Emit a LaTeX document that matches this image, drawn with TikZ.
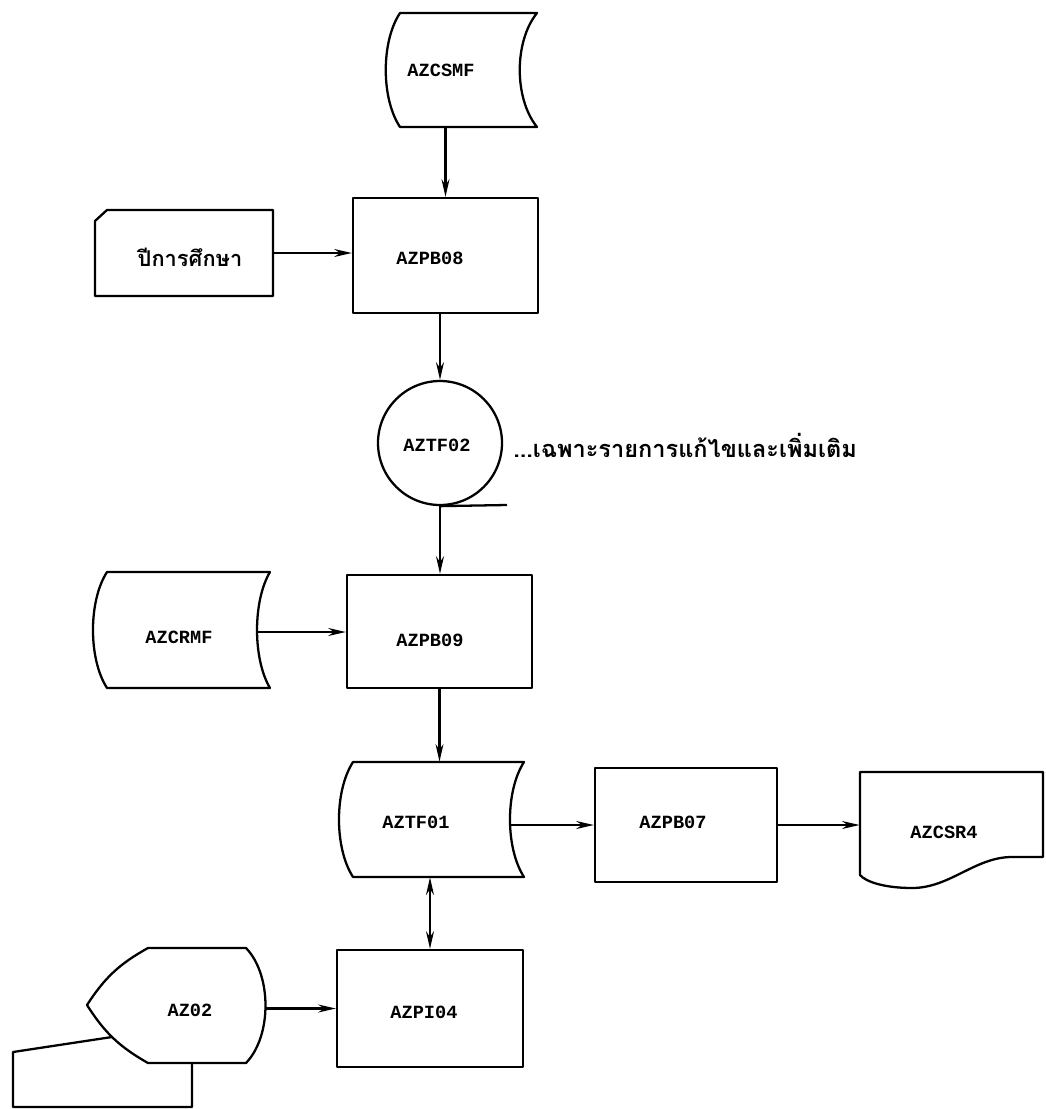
\documentclass[tikz,border=0pt]{standalone}
\usepackage{fontspec}
\setmonofont{Liberation Mono}
\newfontfamily\thaifont[Script=Thai]{Loma}
\usetikzlibrary{arrows.meta,calc}
\begin{document}
\begin{tikzpicture}[x=0.02cm,y=-0.02cm,
  line/.style={line width=1.3pt, line join=round},
  arr/.style={line, -{Stealth[length=10pt,width=4.5pt]}},
  darr/.style={line, {Stealth[length=10pt,width=4.5pt]}-{Stealth[length=10pt,width=4.5pt]}},
  area/.style 2 args={inner sep=0pt, minimum width=#1*0.02cm, minimum height=#2*0.02cm},
  proc/.style 2 args={area={#1}{#2}, draw, line},
  tapec/.style={circle, draw, line, inner sep=0pt, minimum size=124*0.02cm},
  lbl/.style={font=\ttfamily\bfseries\fontsize{10.6}{12}\selectfont, inner sep=0pt},
  thai/.style={font=\thaifont\bfseries\fontsize{13.4}{15}\selectfont, inner sep=0pt}
]
\useasboundingbox (0,0) rectangle (1045,1109);

% ---- AZCSMF (stored data)
\node[area={151}{114}] (csmf) at (461.5,70) {};
\draw[line] (400,13) -- (537,13) .. controls (514,41.5) and (514,98.5) .. (537,127)
  -- (400,127) .. controls (381,98.5) and (381,41.5) .. (400,13) -- cycle;
\node[lbl] (csmf-t) at (441,70) {AZCSMF};

% ---- AZPB08
\node[proc={185}{115}] (pb08) at (445.5,255.5) {};
\node[lbl] (pb08-t) at (430,258) {AZPB08};

% ---- card
\node[area={178}{86}] (card) at (184,253) {};
\draw[line] (107,210) -- (273,210) -- (273,296) -- (95,296) -- (95,221) -- cycle;
\node[thai, font=\thaifont\bfseries\fontsize{12.4}{14}\selectfont] (card-t) at (190,257) {ปีการศึกษา};

% ---- AZTF02 tape
\node[tapec] (tf02) at (440,443) {};
\node[lbl] (tf02-t) at (437,445) {AZTF02};
\coordinate (tf02tail) at (507,505);
\node[thai, anchor=west] (note) at (513,445) {...เฉพาะรายการแก้ไขและเพิ่มเติม};

% ---- AZPB09
\node[proc={185}{113}] (pb09) at (439.5,631.5) {};
\node[lbl] (pb09-t) at (430,640) {AZPB09};

% ---- AZCRMF
\node[area={177}{116}] (crmf) at (181.5,630) {};
\draw[line] (107,572) -- (270,572) .. controls (252.7,601) and (252.7,659) .. (270,688)
  -- (107,688) .. controls (88.3,659) and (88.3,601) .. (107,572) -- cycle;
\node[lbl] (crmf-t) at (179,637) {AZCRMF};
\coordinate (crmf-out) at (257,632);

% ---- AZTF01
\node[area={185}{115}] (tf01) at (431.5,819.5) {};
\draw[line] (353,762) -- (524,762) .. controls (505.3,791) and (505.3,848) .. (524,877)
  -- (353,877) .. controls (334.3,848) and (334.3,791) .. (353,762) -- cycle;
\node[lbl] (tf01-t) at (416,822) {AZTF01};
\coordinate (tf01-out) at (510,825);

% ---- AZPB07
\node[proc={182}{114}] (pb07) at (686,825) {};
\node[lbl] (pb07-t) at (673,822) {AZPB07};

% ---- AZCSR4 document
\node[area={183}{116}] (csr4) at (951.5,830) {};
\draw[line] (860,772) -- (1043,772) -- (1043,857) -- (1012,857)
  .. controls (975,857) and (950,888) .. (912,888)
  .. controls (885,888) and (866,882) .. (860,875) -- cycle;
\node[lbl] (csr4-t) at (944,832) {AZCSR4};

% ---- AZPI04
\node[proc={186}{117}] (pi04) at (430,1008.5) {};
\node[lbl] (pi04-t) at (424,1012) {AZPI04};

% ---- AZ02 display + keyboard
\node[area={179}{115}] (az02) at (176.5,1005.5) {};
\draw[line] (148,948) -- (246,948) .. controls (272,975) and (272,1036) .. (246,1063)
  -- (148,1063) to[bend left=14] (87,1005) to[bend left=14] (148,948) -- cycle;
\draw[line] (112,1037) -- (13,1052) -- (13,1107) -- (192,1107) -- (192,1063);
\node[lbl] (az02-t) at (190,1010) {AZ02};
\coordinate (az02-out) at (266,1008.5);

% ---- connectors
\draw[arr] (pb08.north |- csmf.south) -- (pb08.north);
\draw[arr] (card.east) -- (card.east -| pb08.west);
\draw[arr] (tf02.north |- pb08.south) -- (tf02.north);
\draw[line] (tf02.south) -- (tf02tail);
\draw[arr] (tf02.south) -- (tf02.south |- pb09.north);
\draw[arr] (crmf-out) -- (crmf-out -| pb09.west);
\draw[arr] (pb09.south) -- (pb09.south |- tf01.north);
\draw[arr] (tf01-out) -- (tf01-out -| pb07.west);
\draw[arr] (pb07.east) -- (pb07.east -| csr4.west);
\draw[darr] (pi04.north) -- (pi04.north |- tf01.south);
\draw[arr] (az02-out) -- (az02-out -| pi04.west);
\end{tikzpicture}
\end{document}
